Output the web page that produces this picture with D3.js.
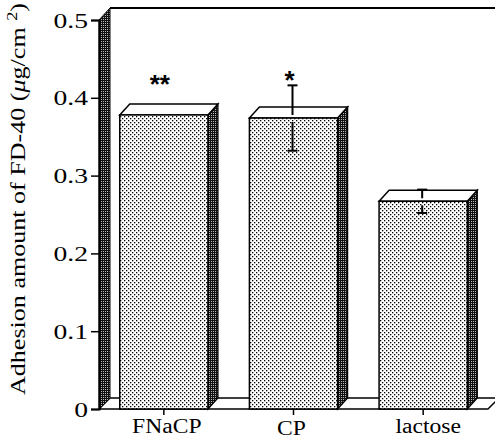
<!DOCTYPE html>
<html>
<head>
<meta charset="utf-8">
<script src="https://cdn.jsdelivr.net/npm/d3@7"></script>
<style>
  body { margin: 0; background: #fff; }
  text { font-family: "Liberation Serif", "Times New Roman", serif; fill: #000; }
</style>
</head>
<body>
<div id="chart"></div>
<script>
// data
var categories = ["FNaCP", "CP", "lactose"];
var values = [0.378, 0.374, 0.267];
var errors = [0, 0.042, 0.015];
var stars = ["**", "*", ""];
var starLevel = [0.423, 0.428, null];
var yTicks = [0, 0.1, 0.2, 0.3, 0.4, 0.5];

var W = 495, H = 440;
var left = 99, floorY = 409, topY = 20, right = 488;
var depth = 11;     // back wall / floor depth
var bdx = 10, bdy = 11; // bar 3d offset

var svg = d3.select('#chart').append('svg')
  .attr('width', W)
  .attr('height', H);

var defs = svg.append('defs');
var light = defs.append('pattern')
  .attr('id', 'light')
  .attr('width', 4).attr('height', 4)
  .attr('patternUnits', 'userSpaceOnUse');
light.append('rect').attr('width', 4).attr('height', 4).attr('fill', '#fff');
light.append('rect').attr('x', 0).attr('y', 0).attr('width', 1.3).attr('height', 1.3).attr('fill', '#000');
light.append('rect').attr('x', 2).attr('y', 2).attr('width', 1.3).attr('height', 1.3).attr('fill', '#000');

var dark = defs.append('pattern')
  .attr('id', 'dark')
  .attr('width', 2).attr('height', 2)
  .attr('patternUnits', 'userSpaceOnUse');
dark.append('rect').attr('width', 2).attr('height', 2).attr('fill', '#111');
dark.append('rect').attr('x', 1).attr('y', 1).attr('width', 1).attr('height', 1).attr('fill', '#bbb');

var y = d3.scaleLinear().domain([0, 0.5]).range([floorY, topY]);
var x = d3.scaleBand().domain(categories).range([left, right])
  .paddingInner(0.32).paddingOuter(0.16);
var bw = x.bandwidth();

function pts(a) { return a.map(function(p) { return p.join(','); }).join(' '); }

// floor
svg.append('polygon')
  .attr('points', pts([[left, floorY], [right, floorY], [right + depth, floorY - depth], [left + depth, floorY - depth]]))
  .attr('fill', '#fff').attr('stroke', '#000').attr('stroke-width', 1.5);

// back wall (left)
svg.append('polygon')
  .attr('points', pts([[left, floorY], [left, topY], [left + depth, topY - depth - 1], [left + depth, floorY - depth]]))
  .attr('fill', 'url(#dark)').attr('stroke', '#000').attr('stroke-width', 1);

// top frame line
svg.append('line')
  .attr('x1', left + depth).attr('x2', W + 5)
  .attr('y1', topY - depth - 1).attr('y2', topY - depth - 1)
  .attr('stroke', '#000').attr('stroke-width', 2);

// bars
var bars = svg.selectAll('g.bar').data(categories).enter().append('g').attr('class', 'bar');

bars.append('polygon') // side
  .attr('points', function(c, i) {
    var x0 = x(c) + bw, yv = y(values[i]);
    return pts([[x0, yv], [x0 + bdx, yv - bdy], [x0 + bdx, floorY - bdy], [x0, floorY]]);
  })
  .attr('fill', 'url(#dark)').attr('stroke', '#000').attr('stroke-width', 1.3);

bars.append('polygon') // top
  .attr('points', function(c, i) {
    var x0 = x(c), yv = y(values[i]);
    return pts([[x0, yv], [x0 + bdx, yv - bdy], [x0 + bw + bdx, yv - bdy], [x0 + bw, yv]]);
  })
  .attr('fill', '#fff').attr('stroke', '#000').attr('stroke-width', 1.5);

bars.append('rect') // front
  .attr('x', function(c) { return x(c); })
  .attr('y', function(c, i) { return y(values[i]); })
  .attr('width', bw)
  .attr('height', function(c, i) { return floorY - y(values[i]); })
  .attr('fill', 'url(#light)').attr('stroke', '#000').attr('stroke-width', 1.5);

// error bars, broken around the top edge like the original
var eb = bars.filter(function(c, i) { return errors[i] > 0; });
function cx(c) { return x(c) + bw / 2 - 1; }
eb.append('line')
  .attr('x1', cx).attr('x2', cx)
  .attr('y1', function(c) { var i = categories.indexOf(c); return y(values[i] + errors[i]); })
  .attr('y2', function(c) { var i = categories.indexOf(c); return y(values[i]) - 3; })
  .attr('stroke', '#000').attr('stroke-width', 2);
eb.append('line')
  .attr('x1', cx).attr('x2', cx)
  .attr('y1', function(c) { var i = categories.indexOf(c); return y(values[i]) + 4; })
  .attr('y2', function(c) { var i = categories.indexOf(c); return y(values[i] - errors[i]); })
  .attr('stroke', '#000').attr('stroke-width', 2);
[1, -1].forEach(function(s) {
  eb.append('line')
    .attr('x1', function(c) { return cx(c) - 5; })
    .attr('x2', function(c) { return cx(c) + 5; })
    .attr('y1', function(c) { var i = categories.indexOf(c); return y(values[i] + s * errors[i]); })
    .attr('y2', function(c) { var i = categories.indexOf(c); return y(values[i] + s * errors[i]); })
    .attr('stroke', '#000').attr('stroke-width', 2);
});

// significance stars
bars.filter(function(c, i) { return stars[i]; })
  .append('text')
  .attr('x', function(c) { return x(c) + bw / 2 - 4; })
  .attr('y', function(c) { return y(starLevel[categories.indexOf(c)]) + 13; })
  .attr('text-anchor', 'middle')
  .style('font-family', '"Liberation Sans", Arial, sans-serif')
  .style('font-weight', 'bold')
  .style('font-size', '26px')
  .text(function(c) { return stars[categories.indexOf(c)]; });

function stretch(sel, k) {
  sel.each(function() {
    var n = this.getComputedTextLength();
    d3.select(this).attr('textLength', n * k).attr('lengthAdjust', 'spacingAndGlyphs');
  });
}

// y axis
var yAxis = svg.append('g')
  .attr('transform', 'translate(' + left + ',0)')
  .call(d3.axisLeft(y).tickValues(yTicks).tickSize(8).tickPadding(3)
    .tickFormat(function(d) { return d === 0 ? '0' : d3.format('.1f')(d); }));
yAxis.select('.domain').attr('stroke-width', 2);
yAxis.selectAll('.tick line').attr('stroke-width', 1.5);
yAxis.selectAll('.tick text').attr('font-size', 20).attr('font-family', null).attr('dy', '0.35em');
stretch(yAxis.selectAll('.tick text'), 1.38);

// x axis: ticks under the floor's front edge
var xAxis = svg.append('g')
  .attr('transform', 'translate(0,' + floorY + ')')
  .call(d3.axisBottom(x).tickSize(6).tickPadding(4));
xAxis.select('.domain').remove();
xAxis.selectAll('.tick line').attr('stroke-width', 1.5);
xAxis.selectAll('.tick text').attr('font-size', 20).attr('font-family', null)
  .attr('dy', function(d) { return d === 'CP' ? '0.8em' : '0.7em'; })
  .attr('dx', function(d) { return d === 'lactose' ? 5 : d === 'FNaCP' ? 3 : -2; });
stretch(xAxis.selectAll('.tick text'), 1.18);

// y title
var title = svg.append('text')
  .attr('transform', 'translate(25,' + 199 + ') rotate(-90)')
  .attr('text-anchor', 'middle')
  .attr('font-size', 20)
  .attr('textLength', 392)
  .attr('lengthAdjust', 'spacingAndGlyphs');
title.append('tspan').text('Adhesion amount of FD-40 (');
title.append('tspan').attr('font-style', 'italic').text('\u03bc');
title.append('tspan').text('g/cm ');
title.append('tspan').attr('font-size', 14).attr('dy', -8).text('2');
title.append('tspan').attr('dy', 8).text(')');
</script>
</body>
</html>
